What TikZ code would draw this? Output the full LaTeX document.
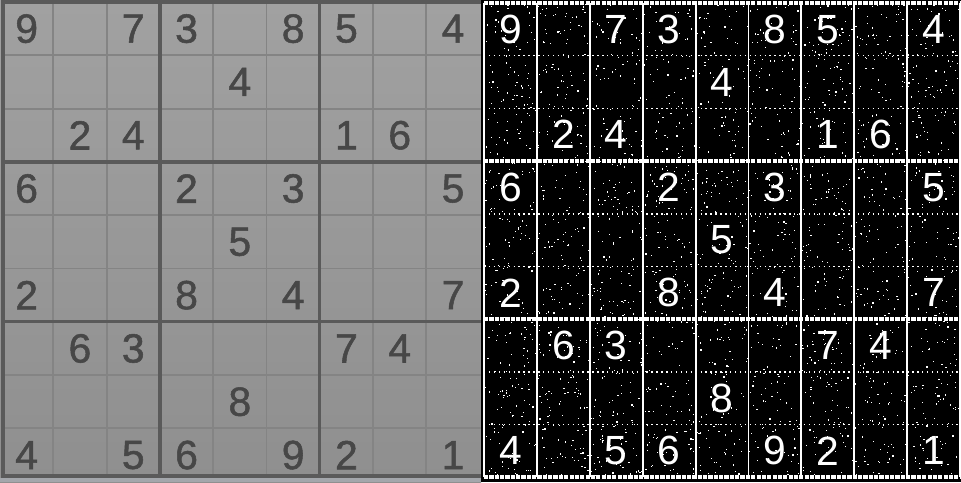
\documentclass[tikz,border=0pt]{standalone}
\usepackage{fontspec}
\newfontfamily\digitfont{Liberation Sans}
\newfontfamily\photofont[FakeBold=1.3]{Liberation Sans}
\usepackage{xcolor}
\definecolor{papertop}{HTML}{A1A1A1}
\definecolor{paperbottom}{HTML}{8F8F8F}
\definecolor{paperedge}{HTML}{A3A6AB}
\definecolor{thinink}{HTML}{848484}
\definecolor{thickink}{HTML}{5A5A5A}
\definecolor{digitink}{HTML}{474747}

\begin{document}
\begin{tikzpicture}[x=0.025cm,y=-0.025cm]
    \tikzstyle{thingrid}=[draw,line width=1.3pt,thinink]
    \tikzstyle{thickgrid}=[draw,line width=2.4pt,thickink]
    \tikzstyle{whiteline}=[draw,line width=1.3pt,white]
    \tikzstyle{whiteband}=[draw,line width=2.6pt,white,dash pattern=on 3pt off 0.8pt]
    \tikzstyle{whitedots}=[draw,line width=1pt,white,dash pattern=on 1pt off 2.5pt]
    \tikzstyle{photodigit}=[inner sep=0pt,text=digitink,font=\photofont\fontsize{29}{30}\selectfont]
    \tikzstyle{binarydigit}=[inner sep=0pt,text=white,font=\digitfont\fontsize{29}{30}\selectfont]
    \useasboundingbox (0,0) rectangle (961,482);
    % photo of the puzzle
    \shade[top color=papertop,bottom color=paperbottom] (0,0) rectangle (481,482);
    \fill[paperedge] (0,478) rectangle (481,482);
    \foreach \k in {1,2,4,5,7,8} {
        \draw[thingrid] (53.3*\k,2) -- (53.3*\k,476);
        \draw[thingrid] (3,{2+53.3*\k}) -- (481,{2+53.3*\k});
    }
    \foreach \k in {3,6} {
        \draw[thickgrid] (53.3*\k,2) -- (53.3*\k,476);
        \draw[thickgrid] (3,{2+53.3*\k}) -- (481,{2+53.3*\k});
    }
    \draw[thickgrid] (481,2) -- (3,2) -- (3,476) -- (481,476);
    % thresholded copy
    \fill[black] (481,0) rectangle (961,482);
    \pgfmathsetseed{42}
    \foreach \i in {1,...,2600}
        \fill[white] ({484+476*rnd},{3+473*rnd}) rectangle +(1.2,1.2);
    \foreach \k in {1,2,4,5,7,8}
        \draw[whitedots] (484,{3+52.7*\k}) -- (960,{3+52.7*\k});
    \foreach \k in {0,3,6,9}
        \draw[whiteband] (484,{3+52.7*\k}) -- (960,{3+52.7*\k});
    \foreach \k in {0,...,9}
        \draw[whiteline] ({484+52.9*\k},3) -- ({484+52.9*\k},477);
    % digits, row/column/value
    \foreach \r/\c/\d in {1/1/9,1/3/7,1/4/3,1/6/8,1/7/5,1/9/4,2/5/4,3/2/2,3/3/4,3/7/1,3/8/6,
                          4/1/6,4/4/2,4/6/3,4/9/5,5/5/5,6/1/2,6/4/8,6/6/4,6/9/7,
                          7/2/6,7/3/3,7/7/7,7/8/4,8/5/8,9/1/4,9/3/5,9/4/6,9/6/9,9/7/2,9/9/1} {
        \node[photodigit] (p\r\c) at ({53.3*(\c-0.5)},{2+53.3*(\r-0.5)}) {\d};
        \node[binarydigit] (b\r\c) at ({484+52.9*(\c-0.5)},{3+52.7*(\r-0.5)}) {\d};
    }
\end{tikzpicture}
\end{document}
